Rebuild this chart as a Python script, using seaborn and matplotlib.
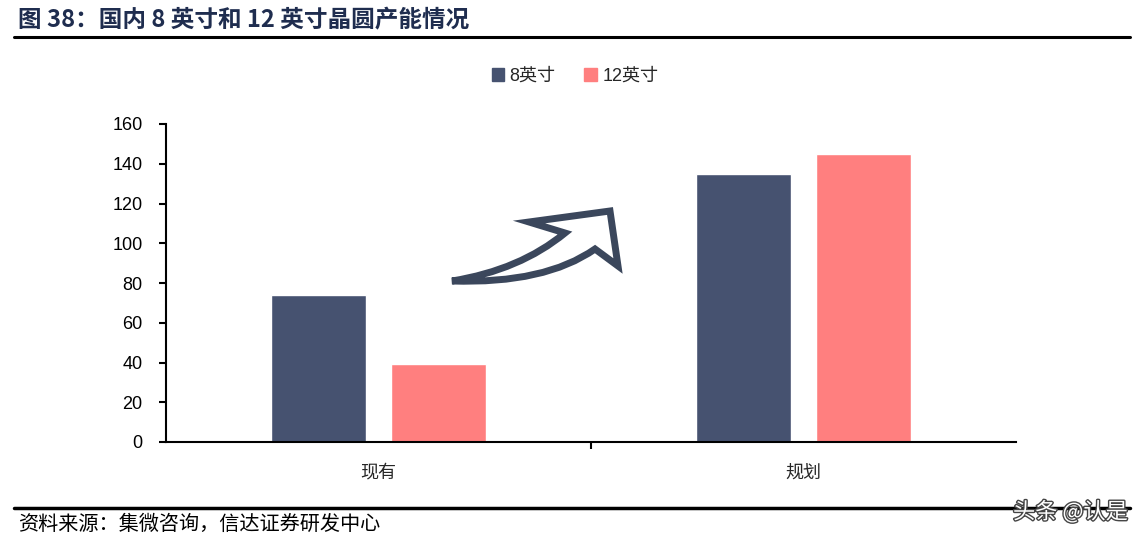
import numpy as np
import pandas as pd
import matplotlib.pyplot as plt
import seaborn as sns
from matplotlib.path import Path
from matplotlib.patches import PathPatch
import matplotlib.patheffects as pe

# data
categories = ['现有', '规划']
series_names = ['8英寸', '12英寸']
values_8 = [74, 135]
values_12 = [39, 145]
y_ticks = [0, 20, 40, 60, 80, 100, 120, 140, 160]

navy = '#465270'
salmon = '#FF7F7F'

sns.set_theme(style='white')
plt.rcParams['font.family'] = ['Liberation Sans', 'Noto Sans CJK SC', 'DejaVu Sans']

df = pd.DataFrame({
    'cat': categories * 2,
    'size': [series_names[0]] * 2 + [series_names[1]] * 2,
    'val': values_8 + values_12,
})

fig = plt.figure(figsize=(11.44, 5.43), dpi=100)
ax = fig.add_axes([166 / 1144, 1 - 442 / 543, 850 / 1144, 318 / 543])

sns.barplot(data=df, x='cat', y='val', hue='size', order=categories,
            hue_order=series_names, palette=[navy, salmon],
            width=0.567, gap=0.21, saturation=1, ax=ax, legend=False)

ax.set_xlim(-0.5, 1.5)
ax.set_ylim(0, 160)
ax.set_yticks(y_ticks)
ax.set_xlabel('')
ax.set_ylabel('')
for s in ['top', 'right']:
    ax.spines[s].set_visible(False)
for s in ['left', 'bottom']:
    ax.spines[s].set_color('black')
    ax.spines[s].set_linewidth(1.5)
ax.tick_params(axis='y', left=True, length=5, width=1.5, colors='black', labelsize=13, pad=12)
ax.tick_params(axis='x', bottom=False, labelsize=13, pad=10)
ax.set_xticks([0.5], minor=True)
ax.tick_params(axis='x', which='minor', bottom=True, length=5, width=1.5, color='black')

# legend
handles = [plt.Rectangle((0, 0), 1, 1, color=c) for c in [navy, salmon]]
fig.legend(handles, series_names, loc='center', bbox_to_anchor=(575 / 1144, 1 - 76 / 543),
           ncol=2, frameon=False, fontsize=13, handlelength=0.7, handleheight=0.7,
           handletextpad=0.3, columnspacing=1.6)

# curved arrow (decoration), pixel coords of the reference image
def fp(x, y):
    return (x / 1144, 1 - y / 543)

verts = [fp(452, 281), fp(520, 270), fp(565, 233), fp(529, 222), fp(610, 211),
         fp(618, 266), fp(595, 249), fp(545, 284), fp(452, 281), fp(452, 281)]
codes = [Path.MOVETO, Path.CURVE3, Path.CURVE3, Path.LINETO, Path.LINETO,
         Path.LINETO, Path.LINETO, Path.CURVE3, Path.CURVE3, Path.CLOSEPOLY]
fig.patches.append(PathPatch(Path(verts, codes), transform=fig.transFigure,
                             facecolor='white', edgecolor='#3B475C', lw=5,
                             joinstyle='miter'))

# title and rules
fig.text(18 / 1144, 1 - 20 / 543, '图 38：国内 8 英寸和 12 英寸晶圆产能情况',
         fontsize=17, fontweight='bold', color='#1F2D4F', va='center', ha='left',
         family=['Noto Sans CJK SC', 'DejaVu Sans'])
fig.add_artist(plt.Line2D([14 / 1144, 1130 / 1144], [1 - 37 / 543] * 2, color='black', lw=2.2))
fig.add_artist(plt.Line2D([14 / 1144, 1130 / 1144], [1 - 508 / 543] * 2, color='black', lw=2.5))
fig.text(18 / 1144, 1 - 524 / 543, '资料来源：集微咨询，信达证券研发中心',
         fontsize=14.5, color='black', va='center', ha='left',
         family=['Noto Sans CJK SC', 'DejaVu Sans'])
fig.text(1128 / 1144, 1 - 512 / 543, '头条 @认是', fontsize=16, color='white',
         va='center', ha='right', family=['Noto Sans CJK SC', 'DejaVu Sans'],
         path_effects=[pe.withStroke(linewidth=2, foreground='#444444')])

fig.savefig('out.png', dpi=100)
